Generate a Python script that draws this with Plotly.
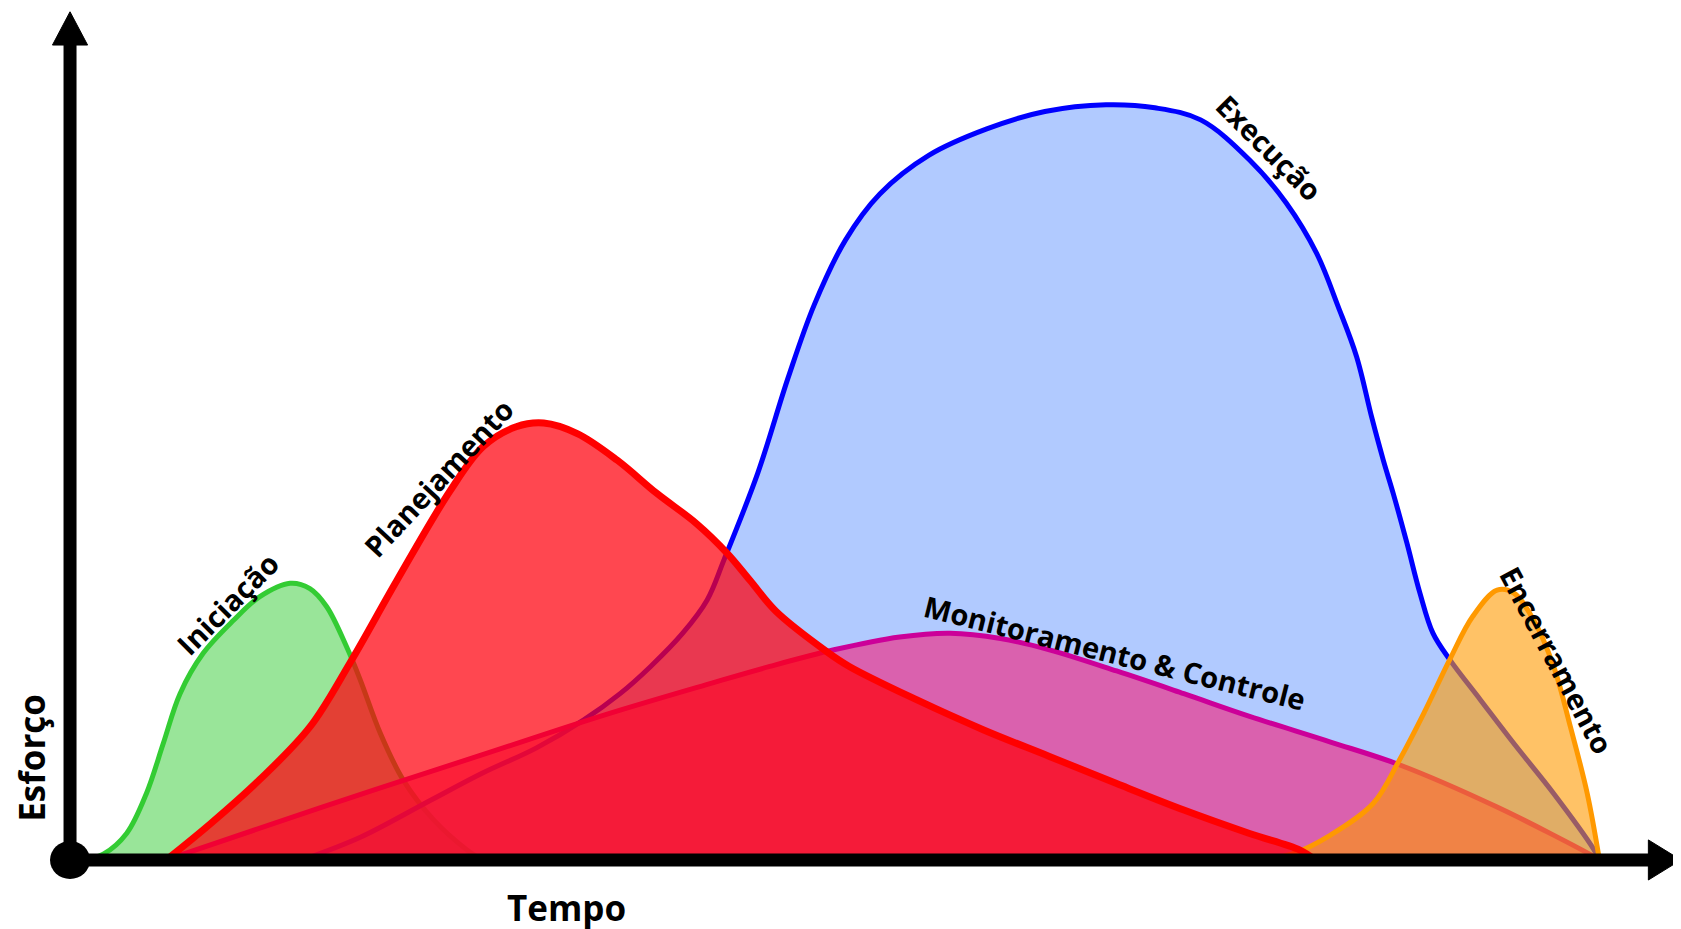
import plotly.graph_objects as go

# ---- data: time (0..100) vs effort (0..100) ----
ini_t = [0.8, 2.2, 3.7, 5.0, 6.1, 7.2, 8.7, 10.7, 12.4, 14.4, 15.7, 16.8, 18.1, 19.0, 20.3, 21.8, 23.8, 26.0, 27.0]
ini_e = [0.0, 0.8, 3.5, 8.8, 15.4, 22.0, 27.3, 31.7, 34.8, 36.6, 35.9, 33.5, 28.2, 23.8, 16.8, 10.6, 5.3, 1.3, 0.0]

pla_t = [6.3, 9.2, 12.4, 15.7, 18.3, 21.4, 24.9, 27.05, 29.2, 31.0, 33.2, 35.8, 38.4, 41.0, 43.0, 44.5, 46.2, 49.5,
         51.0, 55.4, 59.8, 64.1, 68.5, 72.9, 77.2, 80.5, 81.5]
pla_e = [0.0, 4.8, 10.6, 17.6, 26.0, 37.0, 48.9, 54.7, 57.3, 57.8, 56.4, 52.9, 48.5, 44.5, 40.6, 37.0, 32.9, 27.6,
         25.6, 21.2, 17.2, 13.7, 10.1, 6.6, 3.5, 1.3, 0.0]

exe_t = [15.2, 19.0, 23.6, 27.0, 30.5, 33.6, 36.0, 38.0, 40.1, 41.7, 42.8, 45.0, 47.0, 48.7, 50.75,
         53.0, 56.2, 60.0, 63.8, 67.8, 71.0, 74.0, 77.2, 79.6, 81.6, 83.0, 84.2, 85.2, 85.95, 86.6, 87.5, 88.35,
         89.2, 90.3, 92.3, 94.5, 97.1, 99.7, 100.1]
exe_e = [0.0, 3.0, 7.9, 11.5, 14.8, 18.5, 22.0, 25.6, 30.0, 34.4, 39.7, 51.1, 63.8, 73.4, 82.0,
         88.1, 93.2, 96.7, 99.0, 99.9, 99.5, 97.9, 92.6, 86.9, 80.2, 73.2, 66.6, 58.5, 52.9, 48.5, 41.9, 35.3,
         30.0, 26.5, 21.2, 15.4, 8.8, 1.5, 0.0]

mon_t = [6.3, 16.5, 26.8, 35.0, 42.0, 45.8, 50.0, 54.3, 57.6, 60.9, 64.1, 68.5, 72.9, 77.2, 82.5, 87.0, 93.4, 99.7, 100.1]
mon_e = [0.0, 7.0, 13.8, 19.2, 23.4, 25.6, 27.8, 29.5, 30.0, 29.3, 27.8, 25.0, 22.0, 19.0, 15.6, 12.6, 7.0, 0.5, 0.0]

enc_t = [78.0, 80.0, 82.5, 85.3, 87.0, 88.6, 90.3, 91.8, 93.4, 94.5, 95.8, 97.1, 98.2, 99.3, 100.1]
enc_e = [0.0, 0.8, 3.3, 7.5, 13.2, 19.4, 26.5, 32.2, 35.7, 35.3, 31.7, 25.6, 17.6, 8.8, 0.0]

labels = ["Iniciação", "Planejamento", "Execução", "Monitoramento & Controle", "Encerramento"]
x_title = "Tempo"
y_title = "Esforço"

# ---- figure ----
fig = go.Figure()

def area(t, e, line_col, fill_col, width):
    fig.add_trace(go.Scatter(
        x=t, y=e, mode="lines", fill="tozeroy",
        line=dict(color=line_col, width=width, shape="spline", smoothing=1.0),
        fillcolor=fill_col, hoverinfo="skip", showlegend=False))

area(ini_t, ini_e, "#33CC33", "rgba(51,204,51,0.5)", 5)
area(exe_t, exe_e, "#0000FF", "rgba(100,150,255,0.5)", 5)
area(mon_t, mon_e, "#CC0099", "rgba(240,40,130,0.65)", 5)
area(enc_t, enc_e, "#FF9900", "rgba(255,153,0,0.6)", 5)
area(pla_t, pla_e, "#FF0000", "rgba(255,0,12,0.72)", 7)

FONT = "Open Sans, Arial, sans-serif"
lab_font = dict(family=FONT, size=29, color="black", weight="bold")
lab_pos = [(10.3, 33.9, -45), (24.1, 50.6, -47), (78.5, 94.2, 45), (68.4, 27.4, 14), (97.3, 26.5, 62)]
for txt, (tx, ty, ang) in zip(labels, lab_pos):
    fig.add_annotation(x=tx, y=ty, text=txt, showarrow=False, textangle=ang,
                       font=lab_font, xanchor="center", yanchor="middle")

fig.add_annotation(x=32.5, y=-6.35, text=x_title, showarrow=False,
                   font=dict(family=FONT, size=35, color="black", weight="bold"))
fig.add_annotation(x=-2.5, y=13.5, text=y_title, showarrow=False, textangle=-90,
                   font=dict(family=FONT, size=35, color="black", weight="bold"))

# axes arrows (decoration)
Y_TIP, Y_HEAD, Y_HALF = 112.2, 107.8, 1.15
X_TIP, X_HEAD, X_HALF = 105.43, 103.3, 2.65
AX_W = 13
fig.add_shape(type="line", x0=0, y0=0, x1=0, y1=Y_HEAD + 0.5, line=dict(color="black", width=AX_W), layer="above")
fig.add_shape(type="line", x0=0, y0=0, x1=X_HEAD + 0.3, y1=0, line=dict(color="black", width=AX_W), layer="above")
fig.add_shape(type="path", path=f"M {-Y_HALF} {Y_HEAD} L {Y_HALF} {Y_HEAD} L 0 {Y_TIP} Z",
              fillcolor="black", line=dict(color="black", width=1), layer="above")
fig.add_shape(type="path", path=f"M {X_HEAD} {-X_HALF} L {X_HEAD} {X_HALF} L {X_TIP} 0 Z",
              fillcolor="black", line=dict(color="black", width=1), layer="above")
fig.add_shape(type="circle", xref="x", yref="y", xsizemode="pixel", ysizemode="pixel",
              xanchor=0, yanchor=0, x0=-20, x1=20, y0=-19, y1=19,
              fillcolor="black", line=dict(color="black", width=0), layer="above")

fig.update_layout(
    width=1681, height=929,
    margin=dict(l=0, r=0, t=0, b=0),
    paper_bgcolor="white", plot_bgcolor="white",
    xaxis=dict(range=[-4.06, 105.96], visible=False, fixedrange=True),
    yaxis=dict(range=[-10.19, 112.70], visible=False, fixedrange=True),
    showlegend=False,
)

fig.write_html("out.html")
